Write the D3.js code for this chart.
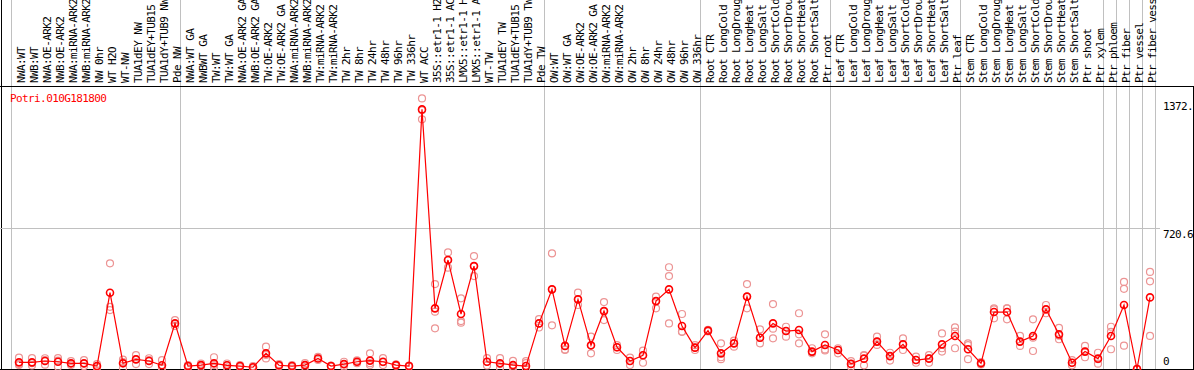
<!DOCTYPE html>
<html>
<head>
<meta charset="utf-8">
<script src="https://cdn.jsdelivr.net/npm/d3@7"></script>
<style>
  html, body { margin: 0; padding: 0; background: #fff; overflow: hidden; }
  text { font-family: 'DejaVu Sans Mono', 'Liberation Mono', monospace; font-size: 11px; letter-spacing: -0.6px; }
</style>
</head>
<body>
<svg width="1194" height="370"></svg>
<script>
var geneId = 'Potri.010G181800';

var samples = [
  'NWA:WT', 'NWB:WT', 'NWA:OE-ARK2', 'NWB:OE-ARK2', 'NWA:miRNA-ARK2', 'NWB:miRNA-ARK2',
  'NW 0hr', 'WT H2O', 'WT-NW', 'TUA1dEY NW', 'TUA1dEY+TUB15', 'TUA1dY+TUB9 NW', 'Pde NW',
  'NWA:WT GA', 'NWBWT GA', 'TW:WT', 'TW:WT GA', 'NWA:OE-ARK2 GA', 'NWB:OE-ARK2 GA',
  'TW:OE-ARK2', 'TW:OE-ARK2 GA', 'NWA:miRNA-ARK2', 'NWB:miRNA-ARK2', 'TW:miRNA-ARK2',
  'TW:miRNA-ARK2', 'TW 2hr', 'TW 8hr', 'TW 24hr', 'TW 48hr', 'TW 96hr', 'TW 336hr',
  'WT ACC', '35S::etr1-1 H2O', '35S::etr1-1 ACC', 'LMX5::etr1-1 H2O', 'LMX5::etr1-1 ACC',
  'WT-TW', 'TUA1dEY TW', 'TUA1dEY+TUB15', 'TUA1dY+TUB9 TW', 'Pde TW',
  'OW:WT', 'OW:WT GA', 'OW:OE-ARK2', 'OW:OE-ARK2 GA', 'OW:miRNA-ARK2', 'OW:miRNA-ARK2',
  'OW 2hr', 'OW 8hr', 'OW 24hr', 'OW 48hr', 'OW 96hr', 'OW 336hr',
  'Root CTR', 'Root LongCold', 'Root LongDrought', 'Root LongHeat', 'Root LongSalt',
  'Root ShortCold', 'Root ShortDrought', 'Root ShortHeat', 'Root ShortSalt', 'Ptr root',
  'Leaf CTR', 'Leaf LongCold', 'Leaf LongDrought', 'Leaf LongHeat', 'Leaf LongSalt',
  'Leaf ShortCold', 'Leaf ShortDrought', 'Leaf ShortHeat', 'Leaf ShortSalt', 'Ptr leaf',
  'Stem CTR', 'Stem LongCold', 'Stem LongDrought', 'Stem LongHeat', 'Stem LongSalt',
  'Stem ShortCold', 'Stem ShortDrought', 'Stem ShortHeat', 'Stem ShortSalt', 'Ptr shoot',
  'Ptr xylem', 'Ptr phloem', 'Ptr fiber', 'Ptr vessel', 'Ptr fiber vessel'
];

var means = [
  34, 34, 41, 37, 29, 29, 15, 390, 29, 49, 41, 19, 233,
  15, 20, 29, 19, 15, 9, 80, 19, 15, 20, 54, 15, 25, 37, 43, 37, 20, 15,
  1327, 310, 557, 281, 526, 37, 29, 20, 15, 233,
  407, 118, 356, 121, 296, 111, 41, 70, 347, 407, 220, 109,
  196, 80, 131, 370, 160, 233, 194, 199, 89, 123,
  97, 26, 53, 140, 66, 126, 46, 53, 126, 169,
  101, 29, 291, 291, 140, 169, 305, 177, 32, 89,
  53, 169, 327, 0, 366
];

var replicates = [
  [58, 25, 20], [56, 30, 18], [55, 45, 22], [56, 43, 12], [40, 28, 20], [45, 27, 15],
  [25, 12, 8], [540, 318, 301], [48, 35, 4], [71, 50, 25], [55, 45, 25], [45, 8, 4], [250, 230, 220],
  [20, 15, 8], [28, 20, 12], [60, 20, 8], [28, 20, 8], [20, 15, 10], [15, 8, 4],
  [114, 72, 54], [25, 18, 14], [20, 15, 10], [30, 20, 10], [62, 54, 46],
  [18, 15, 12], [37, 25, 13], [44, 37, 30], [80, 30, 20], [56, 35, 20], [24, 20, 16], [18, 15, 12],
  [1383, 1322, 1276], [434, 293, 208], [596, 557, 518], [361, 245, 237], [577, 526, 475],
  [56, 37, 18], [56, 25, 6], [42, 12, 6], [40, 30, 0], [255, 233, 212],
  [591, 407, 223], [118, 100, 97], [390, 356, 327], [165, 121, 80], [342, 296, 250], [122, 111, 97],
  [58, 41, 20], [94, 70, 32], [370, 347, 310], [520, 475, 233], [281, 191, 190], [122, 109, 97],
  [200, 196, 192], [131, 60, 50], [145, 131, 114], [434, 370, 310], [203, 160, 131],
  [332, 206, 157], [216, 194, 165], [285, 177, 131], [106, 85, 80], [177, 100, 95],
  [106, 97, 80], [40, 26, 12], [71, 68, 19], [165, 140, 123], [83, 66, 43], [157, 126, 97],
  [63, 46, 32], [71, 56, 32], [182, 106, 89], [213, 191, 106],
  [131, 122, 50], [35, 29, 23], [310, 305, 259], [310, 310, 254], [169, 140, 118],
  [254, 160, 92], [327, 305, 285], [210, 170, 152], [45, 32, 19], [118, 89, 60],
  [83, 50, 27], [216, 190, 101], [445, 410, 119], [0, 0, 0], [496, 448, 169]
];

// first sample index of every group (last entry closes the final group)
var groupStarts = [0, 13, 41, 53, 63, 73, 84, 85, 86, 87, 88];

var yTicks = [0, 720.6, 1372.4];

var svg = d3.select('svg'),
  width = +svg.attr('width'),
  height = +svg.attr('height');

var x = d3.scaleLinear().domain([0, samples.length - 1]).range([19, 1150]);
var y = d3.scaleLinear().domain([0, 1372.4]).range([369, 100.5]);

svg.append('rect').attr('width', width).attr('height', height).attr('fill', '#fff');

// vertical grid lines, through label strip and plot
svg.append('g')
  .selectAll('line')
  .data(groupStarts)
  .enter()
  .append('line')
  .attr('x1', function(d) { return Math.round(x(d) - 8) + 0.5; })
  .attr('x2', function(d) { return Math.round(x(d) - 8) + 0.5; })
  .attr('y1', 0)
  .attr('y2', height)
  .style('stroke', '#c0c0c0');

// frame
svg.append('line').attr('x1', 1.5).attr('x2', 1.5).attr('y1', 0).attr('y2', height).style('stroke', '#000');
svg.append('line').attr('x1', 1193.5).attr('x2', 1193.5).attr('y1', 86).attr('y2', height).style('stroke', '#000');
svg.append('line').attr('x1', 0).attr('x2', width).attr('y1', 86.5).attr('y2', 86.5).style('stroke', '#000');
svg.append('line').attr('x1', 0).attr('x2', width).attr('y1', 369.5).attr('y2', 369.5).style('stroke', '#000');

// horizontal grid line (middle tick)
svg.append('g')
  .selectAll('line')
  .data(yTicks.filter(function(d) { return d > 0 && d < 1000; }))
  .enter()
  .append('line')
  .attr('x1', 0)
  .attr('x2', 1160)
  .attr('y1', function(d) { return Math.round(y(d)) + 0.5; })
  .attr('y2', function(d) { return Math.round(y(d)) + 0.5; })
  .style('stroke', '#c0c0c0');

// sample labels, rotated
svg.append('g')
  .selectAll('text')
  .data(samples)
  .enter()
  .append('text')
  .attr('transform', function(d, i) {
    return 'translate(' + (x(i) + 6) + ',83) rotate(-90)';
  })
  .style('fill', '#000')
  .text(function(d) { return d; });

// y tick labels on the right
svg.append('g')
  .selectAll('text')
  .data(yTicks)
  .enter()
  .append('text')
  .attr('x', 1163)
  .attr('y', function(d) { return d === 0 ? 365 : y(d) + 9.5; })
  .style('fill', '#000')
  .text(function(d) { return d === 0 ? '0' : d.toFixed(1); });

// replicate points
var reps = [];
replicates.forEach(function(r, i) {
  r.forEach(function(v) { reps.push({ i: i, v: v }); });
});

svg.append('g')
  .selectAll('circle')
  .data(reps)
  .enter()
  .append('circle')
  .attr('cx', function(d) { return x(d.i); })
  .attr('cy', function(d) { return y(d.v); })
  .attr('r', 3.5)
  .style('fill', 'none')
  .style('stroke', '#ec9494')
  .style('stroke-width', 1.2);

// mean line
var line = d3.line()
  .x(function(d, i) { return x(i); })
  .y(function(d) { return y(d); });

svg.append('path')
  .datum(means)
  .attr('d', line)
  .style('fill', 'none')
  .style('stroke', '#ff0000')
  .style('stroke-width', 1.2);

svg.append('g')
  .selectAll('circle')
  .data(means)
  .enter()
  .append('circle')
  .attr('cx', function(d, i) { return x(i); })
  .attr('cy', function(d) { return y(d); })
  .attr('r', 3.5)
  .style('fill', 'none')
  .style('stroke', '#ff0000')
  .style('stroke-width', 1.6);

svg.append('text')
  .attr('x', 10)
  .attr('y', 102)
  .style('fill', '#ff0000')
  .text(geneId);
</script>
</body>
</html>
